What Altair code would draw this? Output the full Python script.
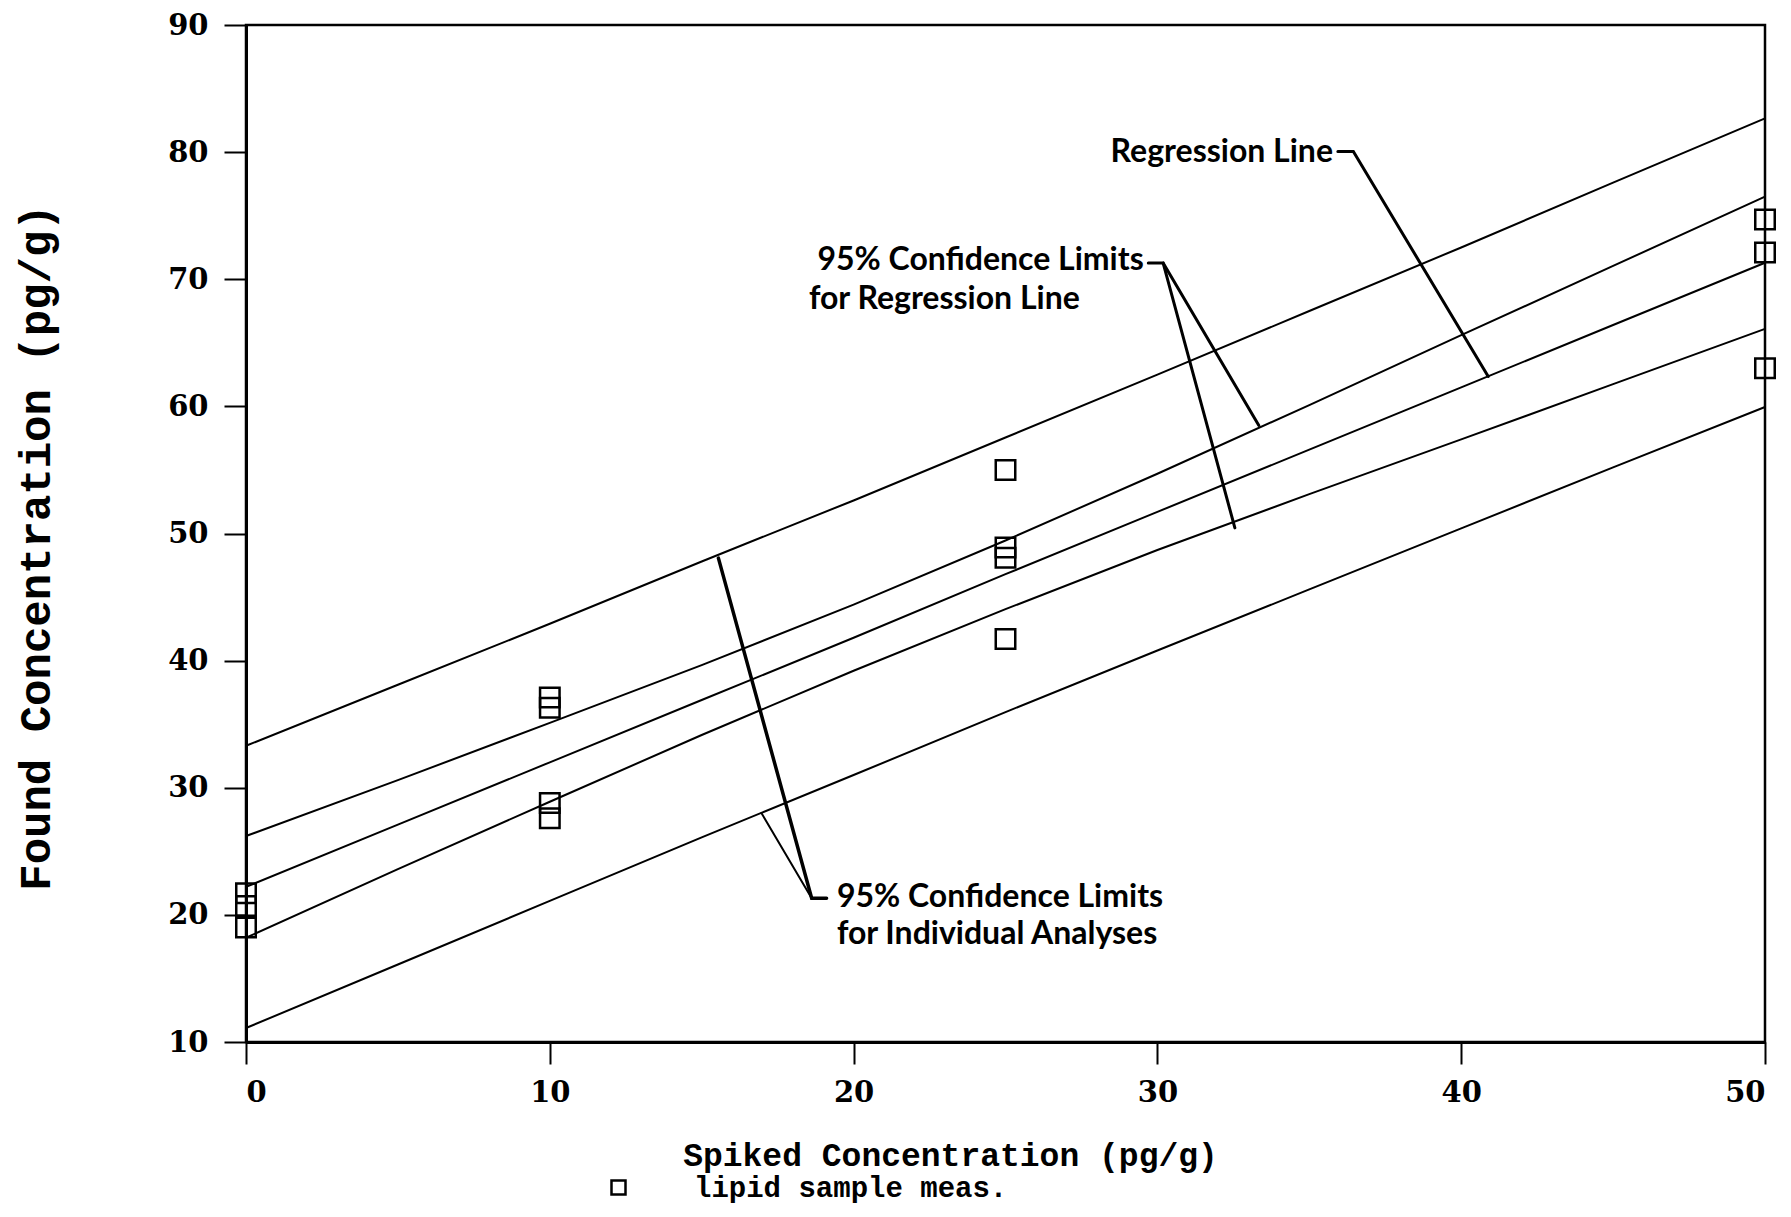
import altair as alt
import pandas as pd

# ---- measured points (lipid sample meas.) ----
spiked_x = [0, 0, 0, 10, 10, 10, 10, 25, 25, 25, 25, 50, 50, 50]
found_y = [21.7, 20.7, 19.0, 37.1, 36.3, 28.8, 27.6, 55.0, 48.9, 48.1, 41.7, 74.7, 72.1, 63.0]

# ---- regression line and confidence limits ----
line_x = [0, 5, 10, 15, 20, 25, 30, 35, 40, 45, 50]
regression = [22.2, 27.1, 32.0, 36.9, 41.8, 46.8, 51.7, 56.6, 61.5, 66.4, 71.3]
upper_reg_ci = [26.2, 30.6, 35.1, 39.65, 44.4, 49.45, 54.7, 60.1, 65.6, 71.05, 76.5]
lower_reg_ci = [18.2, 23.6, 28.9, 34.15, 39.2, 44.05, 48.7, 53.1, 57.4, 61.75, 66.1]
upper_ind_ci = [33.3, 38.1, 42.9, 47.8, 52.6, 57.55, 62.5, 67.5, 72.5, 77.6, 82.65]
lower_ind_ci = [11.1, 16.1, 21.1, 26.1, 31.0, 35.95, 40.8, 45.6, 50.4, 55.2, 59.95]

# ---- annotation leaders (data coordinates) ----
leader_id = ["reg", "reg", "reg", "ci1", "ci1", "ci1", "ci2", "ci2",
             "ind1", "ind1", "ind1", "ind2", "ind2"]
leader_x = [35.94, 36.45, 40.89, 29.70, 30.19, 33.34, 30.19, 32.55,
            19.11, 18.62, 15.55, 18.62, 16.97]
leader_y = [80.05, 80.05, 62.35, 71.27, 71.27, 58.5, 71.27, 50.44,
            21.31, 21.31, 48.06, 21.31, 28.0]
leader_w = [3, 3, 3, 3, 3, 3, 3, 3, 3.5, 3.5, 3.5, 2, 2]

# ---- annotation texts ----
right_text = ["Regression Line", "95% Confidence Limits"]
right_x = [35.78, 29.55]
right_y = [80.0, 71.5]
left_text = ["for Regression Line", "95% Confidence Limits", "for Individual Analyses"]
left_x = [18.53, 19.45, 19.45]
left_y = [68.46, 21.44, 18.5]

x_ticks = [0, 10, 20, 30, 40, 50]
y_ticks = [10, 20, 30, 40, 50, 60, 70, 80, 90]

# ---- tables ----
pts = pd.DataFrame({"x": spiked_x, "y": found_y, "kind": "lipid sample meas."})
rows = []
for name, ys in [("regression", regression), ("upper_reg_ci", upper_reg_ci),
                 ("lower_reg_ci", lower_reg_ci), ("upper_ind_ci", upper_ind_ci),
                 ("lower_ind_ci", lower_ind_ci)]:
    for xv, yv in zip(line_x, ys):
        rows.append({"series": name, "x": xv, "y": yv})
lines = pd.DataFrame(rows)
leaders = pd.DataFrame({"id": leader_id, "x": leader_x, "y": leader_y,
                        "w": leader_w, "seq": list(range(len(leader_id)))})
rtext = pd.DataFrame({"t": right_text, "x": right_x, "y": right_y})
ltext = pd.DataFrame({"t": left_text, "x": left_x, "y": left_y})

xscale = alt.Scale(domain=[0, 50], nice=False, zero=False)
yscale = alt.Scale(domain=[10, 90], nice=False, zero=False)

x_axis = alt.Axis(values=x_ticks, grid=False, tickSize=22, tickWidth=2,
                  domainWidth=3, domainColor="black", tickColor="black",
                  labelPadding=14, labelFont="DejaVu Serif", labelFontWeight="bold",
                  labelFontSize=29, labelColor="black",
                  title="Spiked Concentration (pg/g)", titleFont="Liberation Mono",
                  titleFontWeight="bold", titleFontSize=33, titleColor="black",
                  titleX=704, titleY=113, titleAlign="center", titleBaseline="middle",
                  titleAngle=0)
y_axis = alt.Axis(values=y_ticks, grid=False, tickSize=22, tickWidth=2,
                  domainWidth=3, domainColor="black", tickColor="black",
                  labelPadding=16, labelFont="DejaVu Serif", labelFontWeight="bold",
                  labelFontSize=29, labelColor="black",
                  title="Found Concentration (pg/g)", titleFont="Liberation Mono",
                  titleFontWeight="bold", titleFontSize=44, titleColor="black",
                  titleX=-210, titleY=522, titleAlign="center", titleBaseline="middle",
                  titleAngle=270)

band = alt.Chart(lines).mark_line(color="black", strokeWidth=2).encode(
    x=alt.X("x:Q", scale=xscale, axis=x_axis),
    y=alt.Y("y:Q", scale=yscale, axis=y_axis),
    detail="series:N",
    order="x:Q",
)

lead = alt.Chart(leaders).mark_line(color="black", strokeCap="round").encode(
    x=alt.X("x:Q", scale=xscale),
    y=alt.Y("y:Q", scale=yscale),
    detail="id:N",
    order="seq:Q",
    strokeWidth=alt.StrokeWidth("w:Q", scale=None),
)

points = alt.Chart(pts).mark_point(shape="square", filled=False, size=380,
                                   strokeWidth=2.5, clip=False, opacity=1).encode(
    x=alt.X("x:Q", scale=xscale),
    y=alt.Y("y:Q", scale=yscale),
    color=alt.Color("kind:N", scale=alt.Scale(range=["black"]),
                    legend=alt.Legend(orient="none", legendX=358, legendY=1148,
                                      title=None, padding=0,
                                      symbolType="square", symbolSize=196,
                                      symbolStrokeWidth=2.5, symbolFillColor="white",
                                      labelOffset=61, labelFont="Liberation Mono",
                                      labelFontWeight="bold", labelFontSize=29,
                                      labelColor="black", labelLimit=800)),
)

txt_r = alt.Chart(rtext).mark_text(align="right", baseline="middle",
                                   font="Lato", fontWeight="bold", fontSize=32,
                                   color="black").encode(
    x=alt.X("x:Q", scale=xscale), y=alt.Y("y:Q", scale=yscale), text="t:N")
txt_l = alt.Chart(ltext).mark_text(align="left", baseline="middle",
                                   font="Lato", fontWeight="bold", fontSize=32,
                                   color="black").encode(
    x=alt.X("x:Q", scale=xscale), y=alt.Y("y:Q", scale=yscale), text="t:N")

chart = alt.layer(band, lead, points, txt_r, txt_l).properties(
    width=1519, height=1017,
    padding={"left": 238, "top": 17, "right": 18, "bottom": 167},
    autosize=alt.AutoSizeParams(type="none"),
    background="white",
).configure_view(stroke="black", strokeWidth=2.5)

chart.save("out.html", embed_options={"renderer": "svg", "actions": False})
